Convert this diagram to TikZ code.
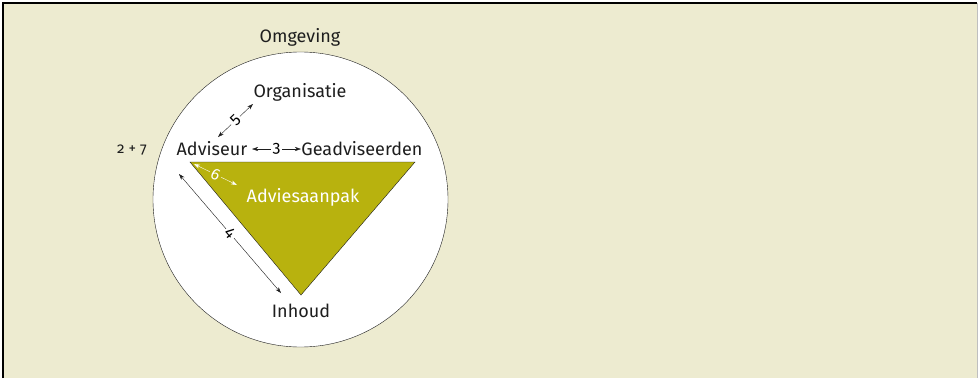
\documentclass[tikz,border=0pt]{standalone}
\usepackage{fontspec}
\setmainfont{Fira Sans}[Numbers=OldStyle]
\usetikzlibrary{positioning}
\usetikzlibrary{arrows.meta}
\definecolor{achtergrond}{RGB}{237,235,208}
\definecolor{olijf}{RGB}{184,178,14}
\definecolor{tekst}{RGB}{30,30,30}

\begin{document}
\begin{tikzpicture}[x=1pt, y=-1pt, lbl/.style={font=\fontsize{18}{20}\selectfont, text=tekst, inner sep=1pt, anchor=base}, pijl/.style={{Stealth[length=6pt,width=4pt]}-{Stealth[length=6pt,width=4pt]}, draw=tekst, thin}, nummer/.style={sloped, font=\fontsize{16}{17}\selectfont, inner sep=2pt}, node distance = .2cm]
	\useasboundingbox (0,0) rectangle (978,378);
	\fill[achtergrond] (3,3) rectangle (977,378);
	\draw[line width=1.5pt] (3,378) -- (3,3) -- (977,3);
	\draw[black!25, line width=1pt] (977,3) -- (977,378);
	\node[circle, draw=tekst, fill=white, minimum size=295pt, inner sep=0pt] (omgeving) at (300.5,199.5) {};
	\node[lbl] (omgevinglbl) at (300,42) {Omgeving};
	\coordinate (hoeklinks) at (190,162);
	\coordinate (hoekrechts) at (415,162);
	\coordinate (hoekonder) at (301,295);
	\draw[draw=tekst, fill=olijf] (hoeklinks) -- (hoekrechts) -- (hoekonder) -- cycle;
	\node[lbl] (organisatie) at (300,97) {Organisatie};
	\node[lbl] (adviseur) at (212,155) {Adviseur};
	\node[lbl] (geadviseerden) at (362,155) {Geadviseerden};
	\node[lbl, text=white] (aanpak) at (303,202) {Adviesaanpak};
	\node[lbl] (inhoud) at (301,317) {Inhoud};
	\node[lbl, font=\fontsize{15}{17}\selectfont] (som) at (132,153) {2 + 7};
	\coordinate (pijl3a) at (252,149);
	\coordinate (pijl3b) at (301,149);
	\coordinate (pijl5a) at (218,137);
	\coordinate (pijl5b) at (253,104);
	\coordinate (pijl6a) at (194,164);
	\coordinate (pijl6b) at (237,185);
	\coordinate (pijl4a) at (179,174);
	\coordinate (pijl4b) at (281,293);
	\draw[pijl] (pijl3a) -- node[nummer, fill=white] {3} (pijl3b);
	\draw[pijl] (pijl5a) -- node[nummer, fill=white] {5} (pijl5b);
	\draw[pijl, draw=white] (pijl6a) -- node[nummer, fill=olijf, text=white] {6} (pijl6b);
	\draw[pijl] (pijl4a) -- node[nummer, fill=white] {4} (pijl4b);
\end{tikzpicture}
\end{document}
